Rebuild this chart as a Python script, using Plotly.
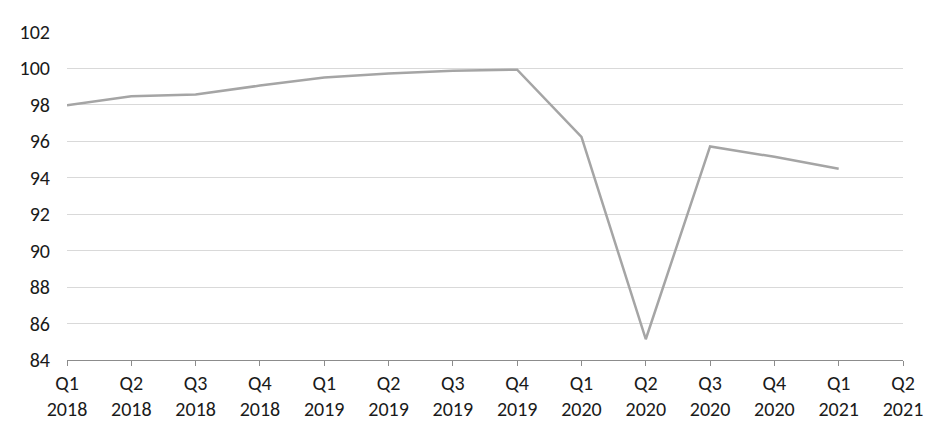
import plotly.graph_objects as go

quarters = ["Q1", "Q2", "Q3", "Q4", "Q1", "Q2", "Q3", "Q4",
            "Q1", "Q2", "Q3", "Q4", "Q1", "Q2"]
years = ["2018", "2018", "2018", "2018", "2019", "2019", "2019", "2019",
         "2020", "2020", "2020", "2020", "2021", "2021"]
values = [97.98, 98.47, 98.57, 99.06, 99.5, 99.72, 99.88, 99.93,
          96.24, 85.14, 95.72, 95.15, 94.5]

labels = [q + "<br>" + y for q, y in zip(quarters, years)]
y_ticks = list(range(84, 103, 2))

fig = go.Figure()
fig.add_trace(go.Scatter(x=labels[:len(values)], y=values,
                         mode="lines",
                         line=dict(color="#A5A5A5", width=2.5)))

fig.update_xaxes(type="category",
                 categoryorder="array",
                 categoryarray=labels,
                 range=[0, len(labels) - 1],
                 tickmode="array",
                 tickvals=labels,
                 ticktext=labels,
                 showgrid=False,
                 showline=True,
                 linecolor="#8C8C8C",
                 linewidth=1,
                 ticks="outside",
                 ticklen=5,
                 tickcolor="#8C8C8C",
                 tickfont=dict(size=20, color="#1A1A1A"))
fig.update_yaxes(range=[84, 102],
                 tickvals=y_ticks,
                 showgrid=True,
                 gridcolor="#D9D9D9",
                 gridwidth=1,
                 zeroline=False,
                 ticks="",
                 ticklabelstandoff=16,
                 tickfont=dict(size=20, color="#1A1A1A"))

# page body adds an 8px offset, so margins are trimmed on the top/left
fig.update_layout(width=952, height=438,
                  margin=dict(l=58, r=57, t=21, b=86),
                  paper_bgcolor="white",
                  plot_bgcolor="white",
                  showlegend=False,
                  font=dict(family="Carlito, Lato, 'Open Sans', sans-serif"))

fig.write_html("out.html")
